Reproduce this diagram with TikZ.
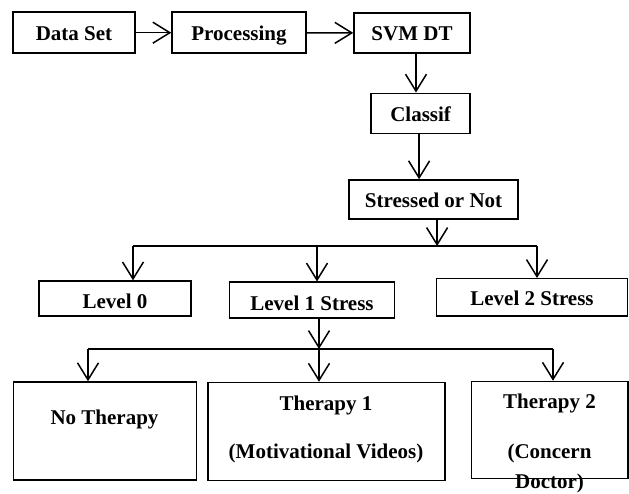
\documentclass[tikz,border=0pt]{standalone}
\usepackage{fontspec}
\setmainfont{Liberation Serif}
\usetikzlibrary{arrows.meta}

\begin{document}
\begin{tikzpicture}[x=1pt, y=-1pt,
  every node/.style={font=\fontsize{21}{24}\selectfont\bfseries},
  box/.style={draw, line width=1.5pt, inner sep=0pt, text height=16pt, text depth=0pt},
  lvlbox/.style={box, text height=20pt},
  bigbox/.style={draw, line width=1.5pt, inner sep=0pt},
  arr/.style={-{Straight Barb[length=17pt, width=21pt]}, line width=1.5pt},
  bus/.style={line width=1.5pt}]

  \useasboundingbox (0,0) rectangle (629,494);

  % Top row
  \node[box, minimum width=122pt, minimum height=41pt] (data) at (74,32.7) {Data Set};
  \node[box, minimum width=134pt, minimum height=41pt] (proc) at (239,32.7) {Processing};
  \node[box, minimum width=116pt, minimum height=40pt] (svm) at (412,33) {SVM DT};

  % Middle column
  \node[box, minimum width=99pt, minimum height=40pt] (classif) at (420.6,113.3) {Classif};
  \node[box, minimum width=169pt, minimum height=39pt] (stressed) at (433.6,199.5) {Stressed or Not};

  % Stress levels
  \node[lvlbox, minimum width=152pt, minimum height=35pt] (lvl0) at (115,298.6) {Level 0};
  \node[lvlbox, minimum width=165pt, minimum height=35.5pt] (lvl1) at (312,300) {Level 1 Stress};
  \node[box, minimum width=191pt, minimum height=37.3pt] (lvl2) at (532,297.4) {Level 2 Stress};

  % Therapy boxes
  \node[bigbox, minimum width=183pt, minimum height=98pt] (nother) at (105,431) {};
  \node[bigbox, minimum width=237pt, minimum height=98pt] (ther1) at (326.5,431.5) {};
  \node[bigbox, minimum width=156.5pt, minimum height=97pt] (ther2) at (549.5,430) {};
  \node (notherTxt) at (104.5,419) {No Therapy};
  \node[align=center] (ther1Txt) at (326,429) {Therapy 1\\[24pt](Motivational Videos)};
  \node[align=center] (ther2Txt) at (549.5,443) {Therapy 2\\[26pt](Concern\\[6pt]Doctor)};

  % Bus junctions
  \coordinate (busL) at (133,246);
  \coordinate (busM) at (317,246);
  \coordinate (busR) at (537,246);
  \coordinate (busTwoL) at (88,349);
  \coordinate (busTwoM) at (319,349);
  \coordinate (busTwoR) at (553,349);

  % Arrows along the top
  \draw[arr] (data) -- (proc);
  \draw[arr] (proc) -- (svm);
  \draw[arr] ([xshift=4pt]svm.south) -- ([xshift=4pt]svm.south |- classif.north);
  \draw[arr] ([xshift=-1.5pt]classif.south) -- ([xshift=-1.5pt]classif.south |- stressed.north);
  \draw[arr] ([xshift=3.5pt]stressed.south) -- ([xshift=3.5pt]stressed.south |- busM);

  % First split
  \draw[bus] (busL) -- (busR);
  \draw[arr] (busL) -- (busL |- lvl0.north);
  \draw[arr] (busM) -- (busM |- lvl1.north);
  \draw[arr] (busR) -- (busR |- lvl2.north);

  % Second split
  \draw[arr] (busTwoM |- lvl1.south) -- (busTwoM);
  \draw[bus] (busTwoL) -- (busTwoR);
  \draw[arr] (busTwoL) -- (busTwoL |- nother.north);
  \draw[arr] (busTwoM) -- (busTwoM |- ther1.north);
  \draw[arr] (busTwoR) -- (busTwoR |- ther2.north);

\end{tikzpicture}
\end{document}
